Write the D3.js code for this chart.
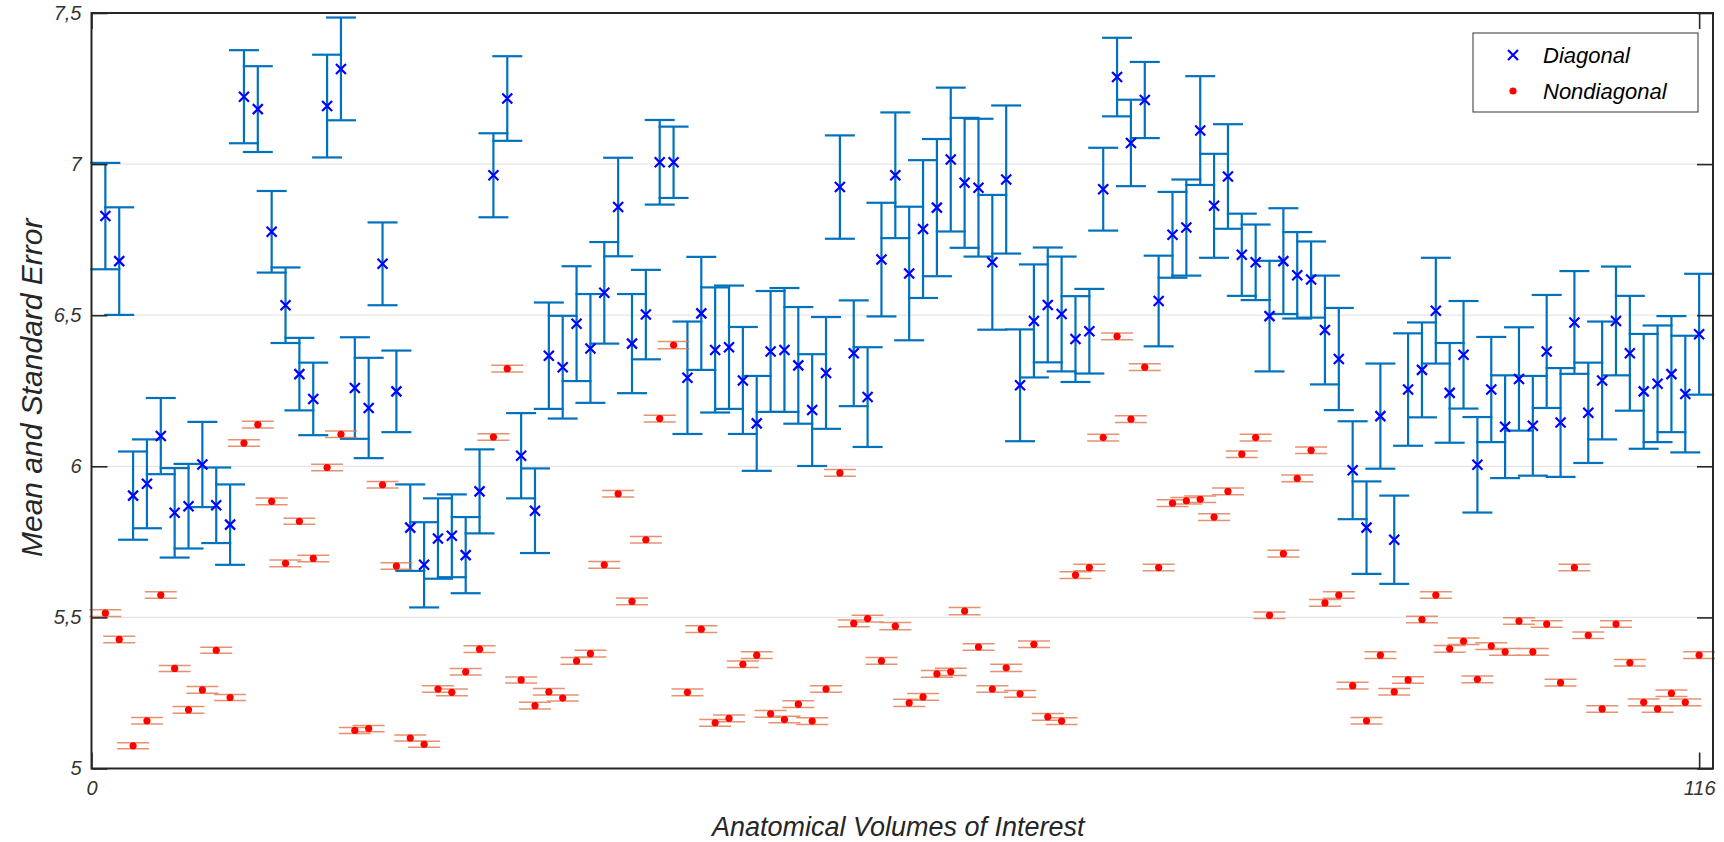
<!DOCTYPE html>
<html>
    <head>
        <meta charset="utf-8">
        <title>Mean and Standard Error</title>
        <script src="https://cdnjs.cloudflare.com/ajax/libs/d3/7.8.5/d3.min.js"></script>
        <style>
            body { margin: 0; background: #ffffff; }
            svg text { font-family: "Liberation Sans", Arial, sans-serif; font-style: italic; }
        </style>
    </head>
    <body>
        <script type="text/javascript">

            // Mean of the diagonal values per anatomical volume (1..116)
            var diagMean = [
                6.828, 6.679, 5.903, 5.942, 6.100, 5.846, 5.868, 6.006, 5.871, 5.807,
                7.223, 7.182, 6.776, 6.533, 6.305, 6.223, 7.192, 7.315, 6.259, 6.193,
                6.670, 6.248, 5.797, 5.674, 5.761, 5.770, 5.706, 5.917, 6.963, 7.217,
                6.035, 5.853, 6.366, 6.328, 6.472, 6.390, 6.574, 6.858, 6.406, 6.502,
                7.006, 7.006, 6.293, 6.506, 6.385, 6.394, 6.284, 6.142, 6.380, 6.385,
                6.334, 6.186, 6.309, 6.924, 6.374, 6.229, 6.684, 6.963, 6.638, 6.785,
                6.856, 7.015, 6.938, 6.922, 6.675, 6.949, 6.268, 6.481, 6.534, 6.504,
                6.421, 6.447, 6.917, 7.288, 7.070, 7.212, 6.547, 6.766, 6.790, 7.111,
                6.862, 6.959, 6.700, 6.675, 6.497, 6.679, 6.632, 6.618, 6.451, 6.355,
                5.987, 5.797, 6.166, 5.757, 6.254, 6.319, 6.515, 6.243, 6.369, 6.005,
                6.254, 6.131, 6.289, 6.134, 6.380, 6.145, 6.476, 6.177, 6.284, 6.481,
                6.374, 6.248, 6.273, 6.305, 6.239, 6.437
            ];

            // Standard error of the diagonal values
            var diagErr = [
                0.176, 0.178, 0.146, 0.147, 0.126, 0.148, 0.140, 0.141, 0.125, 0.133,
                0.154, 0.142, 0.135, 0.125, 0.120, 0.120, 0.170, 0.170, 0.168, 0.166,
                0.137, 0.135, 0.143, 0.141, 0.133, 0.137, 0.126, 0.139, 0.139, 0.140,
                0.141, 0.140, 0.176, 0.170, 0.190, 0.180, 0.168, 0.163, 0.164, 0.148,
                0.140, 0.118, 0.186, 0.187, 0.207, 0.204, 0.177, 0.157, 0.200, 0.205,
                0.193, 0.185, 0.185, 0.171, 0.175, 0.165, 0.188, 0.208, 0.221, 0.228,
                0.227, 0.238, 0.215, 0.228, 0.223, 0.245, 0.185, 0.187, 0.190, 0.190,
                0.142, 0.140, 0.137, 0.130, 0.143, 0.126, 0.150, 0.142, 0.159, 0.180,
                0.172, 0.173, 0.136, 0.125, 0.183, 0.175, 0.143, 0.126, 0.180, 0.169,
                0.162, 0.153, 0.174, 0.146, 0.186, 0.157, 0.175, 0.165, 0.178, 0.158,
                0.174, 0.170, 0.171, 0.165, 0.187, 0.180, 0.170, 0.166, 0.195, 0.180,
                0.190, 0.190, 0.193, 0.192, 0.193, 0.200
            ];

            // Mean of the nondiagonal values per anatomical volume
            var nondiagMean = [
                5.514, 5.427, 5.075, 5.158, 5.574, 5.331, 5.194, 5.260, 5.391, 5.235,
                6.077, 6.138, 5.884, 5.679, 5.818, 5.695, 5.996, 6.106, 5.126, 5.132,
                5.939, 5.670, 5.101, 5.080, 5.263, 5.252, 5.320, 5.395, 6.097, 6.323,
                5.293, 5.208, 5.254, 5.233, 5.356, 5.380, 5.674, 5.909, 5.553, 5.757,
                6.158, 6.401, 5.252, 5.461, 5.151, 5.166, 5.345, 5.375, 5.181, 5.162,
                5.213, 5.157, 5.263, 5.978, 5.480, 5.496, 5.356, 5.471, 5.217, 5.237,
                5.313, 5.320, 5.521, 5.402, 5.263, 5.333, 5.247, 5.411, 5.171, 5.157,
                5.640, 5.665, 6.095, 6.430, 6.156, 6.328, 5.665, 5.878, 5.886, 5.891,
                5.832, 5.917, 6.040, 6.095, 5.507, 5.711, 5.960, 6.053, 5.548, 5.574,
                5.274, 5.158, 5.375, 5.254, 5.293, 5.493, 5.574, 5.396, 5.421, 5.295,
                5.405, 5.386, 5.488, 5.386, 5.478, 5.284, 5.665, 5.441, 5.197, 5.478,
                5.350, 5.219, 5.197, 5.249, 5.219, 5.375
            ];

            // Standard error of the nondiagonal values (very small)
            var nondiagErr = [
                0.011, 0.011, 0.010, 0.011, 0.011, 0.010, 0.011, 0.011, 0.010, 0.010,
                0.011, 0.011, 0.011, 0.011, 0.010, 0.011, 0.011, 0.011, 0.010, 0.010,
                0.011, 0.011, 0.010, 0.010, 0.011, 0.011, 0.011, 0.011, 0.011, 0.011,
                0.010, 0.011, 0.011, 0.010, 0.011, 0.011, 0.011, 0.011, 0.011, 0.011,
                0.011, 0.012, 0.011, 0.011, 0.011, 0.011, 0.011, 0.011, 0.011, 0.011,
                0.011, 0.011, 0.011, 0.011, 0.011, 0.011, 0.011, 0.012, 0.012, 0.011,
                0.011, 0.012, 0.012, 0.011, 0.011, 0.012, 0.011, 0.011, 0.011, 0.011,
                0.011, 0.011, 0.011, 0.011, 0.011, 0.011, 0.011, 0.011, 0.011, 0.011,
                0.011, 0.011, 0.011, 0.011, 0.011, 0.011, 0.011, 0.011, 0.011, 0.011,
                0.011, 0.011, 0.011, 0.011, 0.011, 0.011, 0.011, 0.011, 0.011, 0.011,
                0.011, 0.011, 0.011, 0.011, 0.011, 0.011, 0.011, 0.011, 0.011, 0.011,
                0.011, 0.011, 0.011, 0.011, 0.011, 0.011
            ];

            var seriesNames = ["Diagonal", "Nondiagonal"];
            var yTicks = [5, 5.5, 6, 6.5, 7, 7.5];
            var xTicks = [0, 116];

            // Size of the svg and of the plot area
            var svg_width = 1724;
            var svg_height = 842;
            var plot_left = 91.5;
            var plot_right = 1713;
            var plot_top = 13;
            var plot_bottom = 768.5;
            var tick_len = 16;

            var axis_color = "#262626";
            var diag_bar_color = "#0072bd";
            var nondiag_bar_color = "#e2764e";

            var svg = d3.select("body")
                        .append("svg")
                        .attr("width", svg_width)
                        .attr("height", svg_height);

            var xScale = d3.scaleLinear()
                           .domain([0, 117])
                           .range([plot_left, plot_right]);

            var yScale = d3.scaleLinear()
                           .domain([5, 7.5])
                           .range([plot_bottom, plot_top]);

            // Horizontal grid lines
            svg.append("g")
               .selectAll("line")
               .data(yTicks.slice(1, -1))
               .enter()
               .append("line")
               .attr("x1", plot_left)
               .attr("x2", plot_right)
               .attr("y1", function(d) { return yScale(d); })
               .attr("y2", function(d) { return yScale(d); })
               .attr("stroke", "#e6e6e6")
               .attr("stroke-width", 1.2);

            // Draw error bars (vertical line + two caps) for one series
            function drawBars(means, errs, color, halfCap, width, opacity) {
                var g = svg.append("g")
                           .attr("stroke", color)
                           .attr("stroke-width", width)
                           .attr("opacity", opacity);
                var bars = g.selectAll("g")
                            .data(means)
                            .enter()
                            .append("g");
                bars.append("line")
                    .attr("x1", function(d, i) { return xScale(i + 1); })
                    .attr("x2", function(d, i) { return xScale(i + 1); })
                    .attr("y1", function(d, i) { return yScale(d - errs[i]); })
                    .attr("y2", function(d, i) { return yScale(d + errs[i]); });
                [-1, 1].forEach(function(sign) {
                    bars.append("line")
                        .attr("x1", function(d, i) { return xScale(i + 1) - halfCap; })
                        .attr("x2", function(d, i) { return xScale(i + 1) + halfCap; })
                        .attr("y1", function(d, i) { return yScale(d + sign * errs[i]); })
                        .attr("y2", function(d, i) { return yScale(d + sign * errs[i]); });
                });
            }

            drawBars(diagMean, diagErr, diag_bar_color, 15, 2.2, 1);
            drawBars(nondiagMean, nondiagErr, nondiag_bar_color, 16, 1.5, 0.8);

            // Markers: blue crosses and red dots
            var cross = "M-5,-5L5,5M-5,5L5,-5";
            svg.append("g")
               .selectAll("path")
               .data(diagMean)
               .enter()
               .append("path")
               .attr("d", cross)
               .attr("transform", function(d, i) {
                   return "translate(" + xScale(i + 1) + "," + yScale(d) + ")";
               })
               .attr("stroke", "#0000ff")
               .attr("stroke-width", 2.2)
               .attr("fill", "none");

            svg.append("g")
               .selectAll("circle")
               .data(nondiagMean)
               .enter()
               .append("circle")
               .attr("cx", function(d, i) { return xScale(i + 1); })
               .attr("cy", function(d) { return yScale(d); })
               .attr("r", 3.6)
               .attr("fill", "#ff0000");

            // Axes, ticks point inwards
            var commaFormat = function(d) { return String(d).replace(".", ","); };

            function styleAxis(g) {
                g.select(".domain").remove();
                g.selectAll(".tick line").attr("stroke", axis_color).attr("stroke-width", 1.6);
                g.selectAll(".tick text").attr("fill", "#333333").style("font-size", "20px");
            }

            svg.append("g")
               .attr("transform", "translate(" + plot_left + ",0)")
               .call(d3.axisLeft(yScale).tickValues(yTicks).tickSize(-tick_len)
                       .tickPadding(10).tickFormat(commaFormat))
               .call(styleAxis);

            svg.append("g")
               .attr("transform", "translate(" + plot_right + ",0)")
               .call(d3.axisRight(yScale).tickValues(yTicks).tickSize(-tick_len).tickFormat(""))
               .call(styleAxis);

            svg.append("g")
               .attr("transform", "translate(0," + plot_bottom + ")")
               .call(d3.axisBottom(xScale).tickValues(xTicks).tickSize(-tick_len).tickPadding(12))
               .call(styleAxis);

            svg.append("g")
               .attr("transform", "translate(0," + plot_top + ")")
               .call(d3.axisTop(xScale).tickValues(xTicks).tickSize(-tick_len).tickFormat(""))
               .call(styleAxis);

            // Box around the plot
            svg.append("rect")
               .attr("x", plot_left)
               .attr("y", plot_top)
               .attr("width", plot_right - plot_left)
               .attr("height", plot_bottom - plot_top)
               .attr("fill", "none")
               .attr("stroke", axis_color)
               .attr("stroke-width", 2);

            // Axis titles
            svg.append("text")
               .attr("x", (plot_left + plot_right) / 2 - 4)
               .attr("y", 836)
               .attr("text-anchor", "middle")
               .style("font-size", "27px")
               .attr("fill", "#262626")
               .text("Anatomical Volumes of Interest");

            svg.append("text")
               .attr("transform", "translate(42," + ((plot_top + plot_bottom) / 2 - 3) + ") rotate(-90)")
               .attr("text-anchor", "middle")
               .style("font-size", "30px")
               .attr("fill", "#262626")
               .text("Mean and Standard Error");

            // Legend
            var legend = svg.append("g");
            legend.append("rect")
                  .attr("x", 1473)
                  .attr("y", 33)
                  .attr("width", 225)
                  .attr("height", 79)
                  .attr("fill", "#ffffff")
                  .attr("stroke", "#333333")
                  .attr("stroke-width", 1);

            legend.append("path")
                  .attr("d", cross)
                  .attr("transform", "translate(1513,55)")
                  .attr("stroke", "#0000ff")
                  .attr("stroke-width", 2.2)
                  .attr("fill", "none");

            legend.append("circle")
                  .attr("cx", 1513)
                  .attr("cy", 91)
                  .attr("r", 3.6)
                  .attr("fill", "#ff0000");

            legend.selectAll(".label")
                  .data(seriesNames)
                  .enter()
                  .append("text")
                  .attr("class", "label")
                  .attr("x", 1543)
                  .attr("y", function(d, i) { return 63 + i * 36; })
                  .style("font-size", "22px")
                  .attr("fill", "#000000")
                  .text(function(d) { return d; });

        </script>
    </body>
</html>
